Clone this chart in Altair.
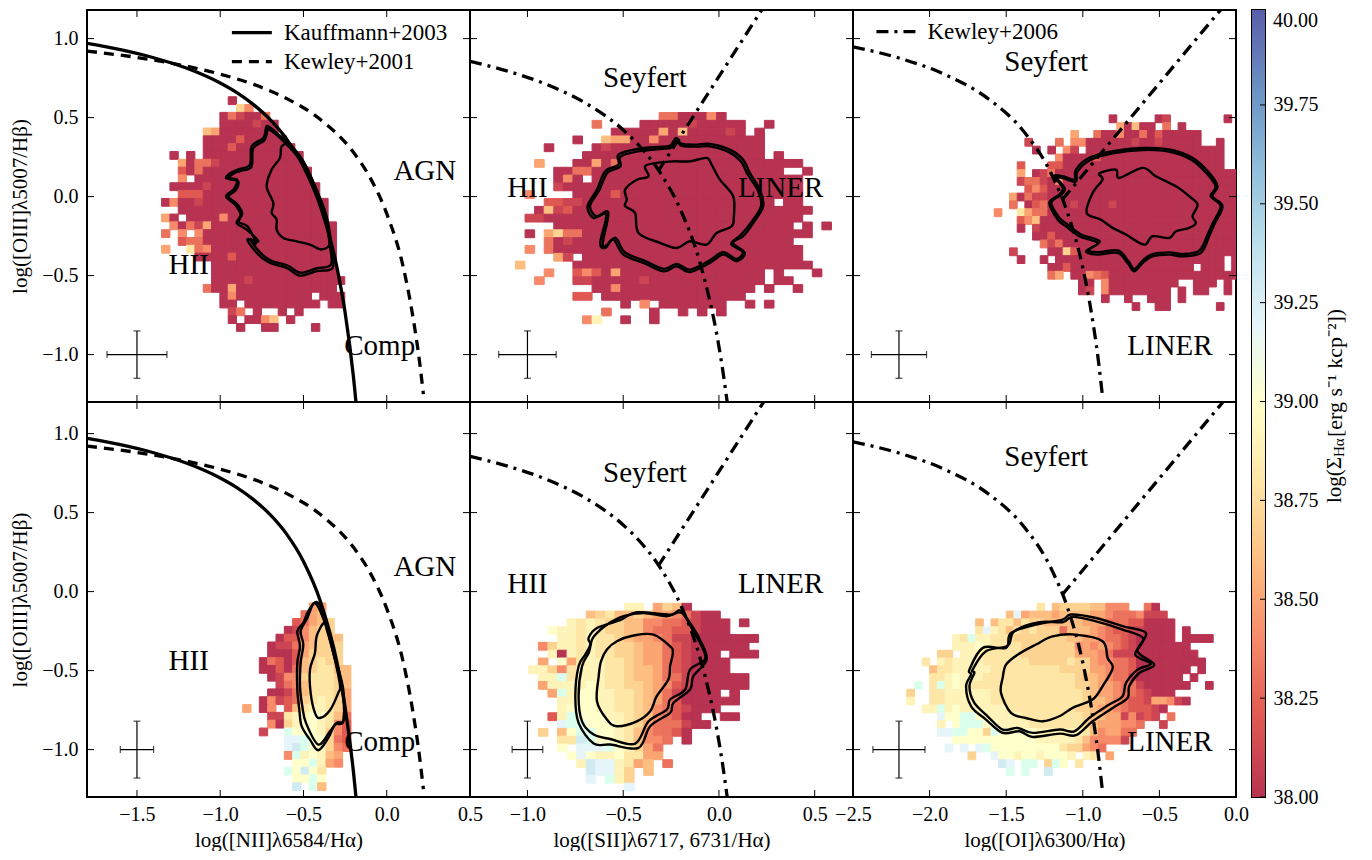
import altair as alt
import pandas as pd

FONT = "Liberation Serif"
# RdYlBu_r at 80% opacity over white, 38..40
CMAP = ["#B73351", "#DF5952", "#F68A69", "#FDBE81", "#FEE6A6", "#FFFFCC",
        "#E6F5F9", "#BCE1ED", "#90BDDA", "#6A91C3", "#5A5EAA"]
CODES = "0123456789ABCDEFGHIJK"

XT1 = [-1.5, -1.0, -0.5, 0.0, 0.5]
XT2 = [-1.0, -0.5, 0.0, 0.5]
XT3 = [-2.5, -2.0, -1.5, -1.0, -0.5, 0.0]
YT = [1.0, 0.5, 0.0, -0.5, -1.0]
CBT = [38.0, 38.25, 38.5, 38.75, 39.0, 39.25, 39.5, 39.75]
CB_TOP = 39.99

G1 = [
"........0",
".........74",
".......031003",
".......0000100",
".....650000000",
".....000020" "0000",
".....00020" "000000",
".0.0." "000000000000",
"..50331" "0000000000",
"..203" "0000000000000",
"..4.0" "0000000000000",
".0000" "1" "0000000000000",
"..222" "00000000000000",
"04001" "000000000000000",
"..000" "000000000000000",
"50.00004" "000000000000",
".40315" "000000000000000",
"3.4.4" "0000000000000000",
"..233" "0000000000000000",
"5..834" "000000000000000",
"....0" "000" "2" "000000000000",
"......" "000000000000000",
"......" "000000000000000",
"......" "0000" "1" "00000000000",
".....3005" "000000000000",
".......04" "000000000" ".000",
".......00." "000000000" ".00",
"........13.0..0.0",
"........0.0046.0",
".........0..00....0",
]
G2 = [
"..............." "3300040",
"........3....00000100000..0",
".........." "0000050" "6" "00001" "0.0",
"......0..655004" "00000000000",
"...0....01" "0000000000000000",
"......." "0000000000000000000" ".0",
"..5...005030" "000000000000000000",
"....0033" "00000000000000000000" "..0",
"....040." "0000000000000000000000",
"....1" "0000000000000000000000000",
".4....0000" "2" "0000000000000000000",
"...2211" "00000000000000000000" ".00",
"..0612" "0000000000000000000000000",
".11" "000000000000000000000000000",
"...." "0000000000000000000000000" ".0.0",
".0.5733" "000000000000000000000000",
"...301" "00000000000000000000000",
".4.3" "00000000000000000000000000",
"....51." "00000000000000000000000",
"6....." "0000000000000000000000000",
"...4..24205" "000000000000000" ".0...0",
"..4...1100000" "1" "000000000000" ".00",
"........004" "00000000000000" ".0..0",
"......22." "000000000000000",
"...........0.4.0000000..0.0",
".........3....0..0.0.0",
".......49..0..0",
]
G3 = [
"..............." "0" "....." "01" "......." "0",
"................" "50600.3.0",
"..........5..3004003" "0" "2" "00000",
"....1...3.44" "000000" "1" "00" "1" "00000" "..0",
".....0.0.41." "000000000000000000",
"........40000" "2" "0000000000000000",
"...2...22" "000000000000000000000",
"...5.013" "000000000000000000000000",
"...133104" "00000000000000000000000",
"....242" "0000000000000000000000000",
"..50311" "0000000000000000000000000",
"..3.023000" "1" "0000" "1" "0000000000000000",
"4..8533" "0000000000000000000000000",
"...2460" "0000000000000000000000000",
"...0.1" "00000000000000000000000000",
".....002" "000000000000000000000000",
"......313" "00000000000000000000000",
"..1....0072" "000000000000000000000",
"...0..0." "0000000000000000000000" ".0",
".......002" "0000000000000000" ".000.0",
".......35.00432" "00000000000000000",
"...........00.4" "000000000" "..000.0",
"...........01.4" "00000000" ".0.00..0",
"..............0..0..000.0",
"..................0..00......0",
]
G4 = [
"........55",
".......356",
"......23567",
".....014677",
"....02246776",
"...011356777",
"...000257777",
"..0320267877",
"..00203678866",
"...0144788876",
"....134688876",
"...0013688875",
"..04123789875",
"5.04.26899875",
"...11899AA863",
"...4079AA9842",
"..1..BAAA9742",
".....CCBAA732",
".....CDBA9743",
".....4B9A965",
"......AAB954",
".....BADA8",
"......AABA",
"......D.B6",
]
G5 = [
"..........99.5760",
"......67866765543100",
"....98987766443321000.0",
"..A998987766433221000",
"...99898876554311" "0000000",
".4799898877655321" "000000",
"..909898877655321" "000.000",
".5.A58998876553210000",
"997489998876653210000",
".99B8999887665331" "000000",
".59999A9887765421" "000000",
"..5B9AA998876531" "0000.0",
"...99AA998876532" "000000",
"...9AAA9988764321000",
"..29BAAA9987643200..00",
"...CBBAAA9875333100",
".7.6ABBAA98643320",
"...88DBAA986443.0",
"...A.CCCBA9753",
"....ACA99A8855",
".....9DCC9856.3",
"......DCC97.6",
"......C.B97",
"..........C",
]
G6 = [
"................." "8.6777766444..30",
"............." "6C5" "6665" "666655" "43334111",
"........." "6.68868776666655533322" "0000",
"........." "8C98687877736665432211" "0000.0",
"......" "98B998887777777665543321" "00000.0000",
"......" "999A9" "8888" "7777777" "45454321" "0000000",
"....77.999" "88888" "7777777" "55543111" "00000000",
"..8.98" "9999" "888888" "77777" "877544332" "000000000",
"...688" "99999" "888888888" "7777" "554332" "0000000" ".0",
"...889A999" "888888888888" "76654331" "000000" ".0",
".B.8B9A9" "88888888888888" "77" "6554331" "000000" "..0",
"7..88" "999999" "888888888888" "765543321" "000",
"9..88" "999999" "888888888888" "76654322155410",
"..99B9A" "999999" "888888888" "77" "6554322210",
"....CAABBA" "99999" "88888888" "7" "665514121.3",
"....9.ABBB" "AA9999" "8888888" "7" "6555443..1",
"....CCBBAA7B" "AAAAA" "999999" "8" "645533",
"......" "AAAAAAAAAAA" "99999" "8" "644441",
".....C.C.CB" "AAAAAAAAA" "877543",
"........7..CAA9AA9AAA9.98.5",
"............DC.BB.7BA.8",
".............B.B..D",
]

KA_X = [-1.8,-1.6,-1.4,-1.2,-1.0,-0.9,-0.8,-0.7,-0.6,-0.5,-0.4,-0.3,-0.25,-0.2,-0.18]
KA_Y = [0.97,0.93,0.879,0.812,0.719,0.658,0.582,0.487,0.362,0.191,-0.056,-0.443,-0.733,-1.14,-1.35]
KE_X = [-1.8,-1.4,-1.0,-0.8,-0.6,-0.4,-0.2,-0.1,0.0,0.1,0.15,0.2,0.22]
KE_Y = [0.921,0.864,0.775,0.71,0.62,0.489,0.28,0.12,-0.108,-0.45,-0.716,-1.07,-1.25]
S_X = [-1.3,-1.1,-0.9,-0.7,-0.5,-0.4,-0.3,-0.2,-0.1,0.0,0.02,0.043]
S_Y = [0.856,0.793,0.71,0.594,0.422,0.30,0.139,-0.085,-0.414,-0.95,-1.1,-1.3]
SL_X = [-0.318,0.233]
SL_Y = [0.16,1.2]
O_X = [-2.5,-2.2,-1.9,-1.6,-1.4,-1.2,-1.1,-1.0,-0.95,-0.9,-0.87]
O_Y = [0.948,0.877,0.773,0.607,0.429,0.133,-0.101,-0.45,-0.70,-1.025,-1.277]
OL_X = [-1.134,-0.085]
OL_Y = [-0.02,1.2]

C1_OUT = [(-.711,.445),(-.661,.403),(-.581,.329),(-.501,.224),(-.421,.044),(-.361,-.124),(-.331,-.314),(-.325,-.451),(-.421,-.472),(-.521,-.500),(-.601,-.451),(-.701,-.420),(-.771,-.367),(-.837,-.272),(-.771,-.283),(-.841,-.209),(-.901,-.167),(-.877,-.114),(-.911,-.051),(-.965,.002),(-.917,.049),(-.901,.108),(-.965,.118),(-.931,.154),(-.881,.175),(-.821,.203),(-.811,.319),(-.741,.371),(-.725,.435)]
C1_OUT2 = [(-.705,.425),(-.655,.385),(-.587,.315),(-.508,.210),(-.430,.030),(-.370,-.135),(-.340,-.320),(-.336,-.432),(-.425,-.455),(-.518,-.482),(-.596,-.436),(-.695,-.405),(-.760,-.355),(-.820,-.270),(-.785,-.295),(-.835,-.190),(-.888,-.160),(-.868,-.105),(-.900,-.045),(-.950,.000),(-.905,.042),(-.893,.098),(-.950,.112),(-.922,.145),(-.875,.163),(-.812,.190),(-.802,.305),(-.735,.357),(-.715,.425)]
C1_IN = [(-.631,.319),(-.581,.325),(-.521,.255),(-.461,.139),(-.411,.002),(-.361,-.167),(-.341,-.293),(-.391,-.335),(-.461,-.304),(-.541,-.283),(-.621,-.262),(-.661,-.209),(-.661,-.145),(-.691,-.103),(-.681,-.040),(-.721,.065),(-.691,.171),(-.641,.245)]

C2_OUT = [(-.525,.266),(-.429,.301),(-.325,.314),(-.255,.323),(-.224,.371),(-.195,.335),(-.117,.329),(-.047,.333),(.057,.297),(.126,.234),(.161,.150),(.213,.044),(.231,-.061),(.179,-.167),(.126,-.251),(.074,-.293),(.135,-.357),(.092,-.409),(.022,-.367),(-.047,-.420),(-.151,-.477),(-.221,-.441),(-.290,-.473),(-.394,-.420),(-.499,-.367),(-.551,-.272),(-.594,-.325),(-.620,-.293),(-.589,-.114),(-.655,-.135),(-.686,-.061),(-.637,.044),(-.594,.160),(-.525,.202)]
C2_OUT2 = [(-.515,.252),(-.425,.286),(-.322,.300),(-.250,.310),(-.222,.352),(-.195,.322),(-.117,.316),(-.047,.318),(.050,.283),(.115,.222),(.150,.140),(.203,.040),(.220,-.060),(.170,-.160),(.116,-.240),(.064,-.300),(.124,-.350),(.090,-.395),(.022,-.352),(-.050,-.405),(-.150,-.462),(-.221,-.426),(-.288,-.458),(-.390,-.405),(-.492,-.352),(-.540,-.262),(-.590,-.310),(-.606,-.290),(-.578,-.100),(-.640,-.125),(-.673,-.058),(-.625,.040),(-.583,.150),(-.515,.190)]
C2_IN = [(-.386,.192),(-.325,.213),(-.238,.223),(-.151,.223),(-.065,.245),(-.038,.202),(.005,.107),(.074,.002),(.078,-.125),(.066,-.188),(-.012,-.230),(-.065,-.304),(-.151,-.283),(-.221,-.325),(-.308,-.293),(-.420,-.230),(-.438,-.104),(-.490,-.061),(-.481,-.019),(-.490,.044),(-.429,.107),(-.368,.128)]

C3_OUT = [(-1.045,.171),(-.958,.245),(-.805,.287),(-.610,.308),(-.436,.298),(-.284,.245),(-.175,.150),(-.121,.065),(-.153,.002),(-.088,-.061),(-.142,-.177),(-.175,-.251),(-.229,-.356),(-.349,-.378),(-.436,-.367),(-.545,-.378),(-.610,-.420),(-.664,-.473),(-.708,-.420),(-.773,-.356),(-.903,-.367),(-.979,-.346),(-.903,-.293),(-1.023,-.251),(-1.110,-.188),(-1.164,-.145),(-1.218,-.040),(-1.153,.013),(-1.131,.055),(-1.186,.129),(-1.131,.129),(-1.055,.108)]
C3_OUT2 = [(-1.035,.158),(-.950,.232),(-.803,.274),(-.610,.295),(-.438,.285),(-.290,.232),(-.185,.140),(-.133,.062),(-.165,.002),(-.100,-.060),(-.153,-.170),(-.186,-.242),(-.240,-.342),(-.349,-.364),(-.436,-.353),(-.545,-.364),(-.610,-.405),(-.664,-.458),(-.705,-.405),(-.770,-.341),(-.900,-.352),(-.965,-.338),(-.890,-.283),(-1.015,-.238),(-1.100,-.176),(-1.152,-.135),(-1.205,-.040),(-1.140,.012),(-1.118,.052),(-1.170,.120),(-1.125,.115),(-1.045,.095)]
C3_IN = [(-.892,.146),(-.784,.171),(-.762,.118),(-.610,.182),(-.523,.129),(-.392,.065),(-.305,.002),(-.251,-.051),(-.284,-.124),(-.262,-.167),(-.305,-.198),(-.392,-.219),(-.436,-.262),(-.545,-.251),(-.599,-.304),(-.718,-.240),(-.805,-.198),(-.881,-.146),(-.975,-.103),(-.936,.023),(-.871,.108)]

C4_OUT = [(-.417,-.067),(-.471,-.124),(-.501,-.198),(-.537,-.251),(-.521,-.346),(-.537,-.451),(-.537,-.620),(-.525,-.747),(-.511,-.852),(-.461,-.937),(-.411,-1.004),(-.351,-.926),(-.311,-.842),(-.261,-.821),(-.261,-.620),(-.311,-.409),(-.361,-.198)]
C4_OUT2 = [(-.431,-.072),(-.477,-.167),(-.517,-.251),(-.501,-.335),(-.517,-.451),(-.521,-.599),(-.507,-.726),(-.485,-.831),(-.411,-.968),(-.341,-.884),(-.301,-.831),(-.257,-.806),(-.271,-.599),(-.321,-.388),(-.371,-.198)]
C4_IN = [(-.377,-.198),(-.421,-.283),(-.431,-.388),(-.461,-.494),(-.457,-.641),(-.431,-.768),(-.401,-.800),(-.341,-.751),(-.291,-.641),(-.281,-.589),(-.321,-.388),(-.357,-.251)]

C5_OUT = [(-.681,-.293),(-.637,-.230),(-.516,-.181),(-.429,-.131),(-.255,-.146),(-.203,-.118),(-.151,-.198),(-.099,-.304),(-.064,-.430),(-.134,-.536),(-.151,-.620),(-.238,-.705),(-.255,-.768),(-.359,-.852),(-.420,-.989),(-.568,-.968),(-.654,-.962),(-.733,-.831),(-.750,-.662),(-.733,-.472),(-.698,-.399),(-.672,-.335)]
C5_OUT2 = [(-.637,-.262),(-.585,-.209),(-.498,-.156),(-.394,-.135),(-.273,-.156),(-.194,-.135),(-.134,-.251),(-.090,-.346),(-.073,-.430),(-.151,-.494),(-.177,-.620),(-.255,-.683),(-.272,-.747),(-.368,-.821),(-.437,-.962),(-.568,-.933),(-.654,-.905),(-.715,-.821),(-.733,-.662),(-.715,-.472),(-.680,-.388),(-.663,-.304)]
C5_IN = [(-.585,-.367),(-.533,-.314),(-.446,-.278),(-.342,-.272),(-.255,-.346),(-.241,-.388),(-.255,-.472),(-.264,-.557),(-.325,-.662),(-.359,-.757),(-.429,-.821),(-.533,-.852),(-.585,-.810),(-.637,-.694),(-.628,-.536),(-.616,-.441)]

C6_OUT = [(-1.740,-.494),(-1.653,-.356),(-1.501,-.356),(-1.469,-.262),(-1.305,-.209),(-1.132,-.177),(-1.077,-.145),(-.914,-.167),(-.740,-.219),(-.588,-.262),(-.642,-.378),(-.534,-.462),(-.632,-.515),(-.697,-.599),(-.708,-.673),(-.805,-.736),(-.936,-.821),(-1.045,-.909),(-1.153,-.899),(-1.327,-.920),(-1.414,-.884),(-1.523,-.894),(-1.632,-.810),(-1.729,-.726),(-1.762,-.599),(-1.729,-.525)]
C6_OUT2 = [(-1.719,-.494),(-1.632,-.378),(-1.490,-.342),(-1.447,-.251),(-1.284,-.194),(-1.132,-.194),(-1.066,-.160),(-.914,-.188),(-.740,-.240),(-.605,-.297),(-.658,-.399),(-.555,-.456),(-.642,-.494),(-.718,-.578),(-.740,-.662),(-.827,-.715),(-.958,-.800),(-1.055,-.884),(-1.153,-.873),(-1.327,-.894),(-1.425,-.863),(-1.523,-.873),(-1.621,-.789),(-1.708,-.705),(-1.740,-.599),(-1.708,-.515)]
C6_IN = [(-1.501,-.462),(-1.425,-.399),(-1.305,-.335),(-1.197,-.283),(-1.045,-.272),(-.871,-.314),(-.838,-.420),(-.805,-.483),(-.871,-.599),(-.936,-.683),(-1.066,-.736),(-1.153,-.789),(-1.262,-.821),(-1.371,-.800),(-1.469,-.768),(-1.534,-.641),(-1.523,-.546)]

XD1 = [-1.8, 0.5]
XD2 = [-1.3, 0.7]
XD3 = [-2.5, 0.0]
YD_TOP = [-1.3, 1.181]
YD_BOT = [-1.3, 1.2]
W = 383
H_TOP = 392
H_BOT = 395
DASH_K01 = [10, 7]
DASH_K06 = [12, 6, 3, 6]
DY = 0.0495
DX = 0.05

T1 = [("AGN", 0.04, 0.165), ("HII", -1.31, -0.43), ("Comp", -0.255, -0.945)]
T2 = [("Seyfert", -0.605, 0.753), ("HII", -1.105, 0.057), ("LINER", 0.099, 0.057)]
T3 = [("Seyfert", -1.512, 0.854), ("LINER", -0.71, -0.943)]
T4 = [("AGN", 0.04, 0.158), ("HII", -1.31, -0.437), ("Comp", -0.255, -0.949)]
T5 = [("Seyfert", -0.605, 0.753), ("HII", -1.105, 0.05), ("LINER", 0.099, 0.05)]
T6 = [("Seyfert", -1.512, 0.854), ("LINER", -0.71, -0.949)]

def panel(grid, x0, y0, xd, yd, h, xticks, col, bottom, curves, conts, texts, err, legend):
    sx = alt.Scale(domain=xd, nice=False, zero=False)
    sy = alt.Scale(domain=yd, nice=False, zero=False)
    rows = []
    for r, s in enumerate(grid):
        for c, ch in enumerate(s):
            if ch != ".":
                rows.append(dict(a=x0 + c * DX, b=x0 + (c + 1) * DX,
                                 t=y0 - r * DY, u=y0 - (r + 1) * DY,
                                 v=38 + CODES.index(ch) * 0.1))
    ax = alt.Axis(values=xticks, format=".1f", title=XTITLES[col], labelPadding=7, titlePadding=5,
                  labelOverlap=False, labelFlush=False) if bottom else None
    ay = alt.Axis(values=YT, format=".1f", title="log([OIII]λ5007/Hβ)", labelPadding=9, titlePadding=11,
                  labelOverlap=False, labelFlush=False) if col == 0 else None
    cs = alt.Scale(domain=[38 + 0.2 * i for i in range(11)], range=CMAP)
    L = [alt.Chart(pd.DataFrame(rows)).mark_rect(clip=True, strokeWidth=1).encode(
        x=alt.X("a:Q", scale=sx, axis=ax), x2="b:Q",
        y=alt.Y("t:Q", scale=sy, axis=ay), y2="u:Q",
        color=alt.Color("v:Q", scale=cs, legend=None),
        stroke=alt.Stroke("v:Q", scale=cs, legend=None))]
    X = alt.X("x:Q", scale=sx, axis=ax)
    Y = alt.Y("y:Q", scale=sy, axis=ay)
    for pts, interp in conts:
        df = pd.DataFrame({"x": [p[0] for p in pts], "y": [p[1] for p in pts], "i": range(len(pts))})
        L.append(alt.Chart(df).mark_line(color="black", strokeWidth=2.4, clip=True, interpolate=interp)
                 .encode(x=X, y=Y, order=alt.Order("i:Q")))
    for xs, ys, dash in curves:
        df = pd.DataFrame({"x": xs, "y": ys, "i": range(len(xs))})
        kw = {"strokeDash": dash} if dash else {}
        L.append(alt.Chart(df).mark_line(color="black", strokeWidth=3.3, clip=True, interpolate="monotone", **kw)
                 .encode(x=X, y=Y, order=alt.Order("i:Q")))
    df = pd.DataFrame(texts, columns=["s", "x", "y"])
    L.append(alt.Chart(df).mark_text(font=FONT, fontSize=29, align="left", baseline="middle", color="black")
             .encode(x=X, y=Y, text="s:N"))
    cx, cy, ex, ey = err
    df = pd.DataFrame({"x": [cx - ex], "x2": [cx + ex], "y": [cy], "y0": [cy - ey], "y1": [cy + ey], "c": [cx]})
    L.append(alt.Chart(df).mark_rule(color="black", strokeWidth=1.2).encode(x=X, x2="x2:Q", y=Y))
    L.append(alt.Chart(df).mark_rule(color="black", strokeWidth=1.2).encode(
        x=alt.X("c:Q", scale=sx, axis=ax), y=alt.Y("y0:Q", scale=sy, axis=ay), y2="y1:Q"))
    df2 = pd.DataFrame({"x": [cx - ex, cx + ex], "y": [cy, cy]})
    L.append(alt.Chart(df2).mark_tick(orient="vertical", size=7, thickness=1.2, color="black").encode(x=X, y=Y))
    df3 = pd.DataFrame({"x": [cx, cx], "y": [cy - ey, cy + ey]})
    L.append(alt.Chart(df3).mark_tick(orient="horizontal", size=7, thickness=1.2, color="black").encode(x=X, y=Y))
    for (x1, x2, xt, yy, name, dash) in legend:
        df = pd.DataFrame({"x": [x1], "x2": [x2], "y": [yy]})
        kw = {"strokeDash": dash} if dash else {}
        L.append(alt.Chart(df).mark_rule(color="black", strokeWidth=3.3, **kw).encode(x=X, x2="x2:Q", y=Y))
        df = pd.DataFrame({"x": [xt], "y": [yy], "s": [name]})
        L.append(alt.Chart(df).mark_text(font=FONT, fontSize=23, align="left", baseline="middle", color="black")
                 .encode(x=X, y=Y, text="s:N"))
    tx = pd.DataFrame({"t": xticks})
    ty = pd.DataFrame({"t": YT})
    TX = alt.X("t:Q", scale=sx, axis=ax)
    TY = alt.Y("t:Q", scale=sy, axis=ay)
    L.append(alt.Chart(tx).mark_rule(color="black", strokeWidth=1).encode(x=TX, y=alt.value(h), y2=alt.value(h - 7)))
    L.append(alt.Chart(tx).mark_rule(color="black", strokeWidth=1).encode(x=TX, y=alt.value(0), y2=alt.value(7)))
    L.append(alt.Chart(ty).mark_rule(color="black", strokeWidth=1).encode(y=TY, x=alt.value(0), x2=alt.value(7)))
    L.append(alt.Chart(ty).mark_rule(color="black", strokeWidth=1).encode(y=TY, x=alt.value(W), x2=alt.value(W - 7)))
    return alt.layer(*L).properties(width=W, height=h)

XTITLES = ["log([NII]λ6584/Hα)", "log([SII]λ6717, 6731/Hα)", "log([OI]λ6300/Hα)"]
CARD = "cardinal-closed"
NII = [(KA_X, KA_Y, None), (KE_X, KE_Y, DASH_K01)]
SII = [(S_X, S_Y, DASH_K06), (SL_X, SL_Y, DASH_K06)]
OI = [(O_X, O_Y, DASH_K06), (OL_X, OL_Y, DASH_K06)]
LEG1 = [(-0.93, -0.69, -0.617, 1.038, "Kauffmann+2003", None), (-0.93, -0.69, -0.617, 0.854, "Kewley+2001", DASH_K01)]
LEG3 = [(-2.347, -2.086, -2.014, 1.044, "Kewley+2006", DASH_K06)]

p1 = panel(G1, -1.352, 0.632, XD1, YD_TOP, H_TOP, XT1, 0, False, NII,
           [(C1_OUT, CARD), (C1_OUT2, CARD), (C1_IN, CARD)], T1, (-1.5, -1.0, 0.18, 0.15), LEG1)
p2 = panel(G2, -1.0625, 0.532, XD2, YD_TOP, H_TOP, XT2, 1, False, SII,
           [(C2_OUT, CARD), (C2_OUT2, CARD), (C2_IN, CARD)], T2, (-1.0, -1.0, 0.15, 0.15), [])
p3 = panel(G3, -1.578, 0.517, XD3, YD_TOP, H_TOP, XT3, 2, False, OI,
           [(C3_OUT, CARD), (C3_OUT2, CARD), (C3_IN, CARD)], T3, (-2.2, -1.0, 0.18, 0.15), LEG3)
p4 = panel(G4, -0.865, -0.0715, XD1, YD_BOT, H_BOT, XT1, 0, True, NII,
           [(C4_OUT, CARD), (C4_OUT2, CARD), (C4_IN, CARD)], T4, (-1.5, -1.0, 0.10, 0.18), [])
p5 = panel(G5, -0.993, -0.074, XD2, YD_BOT, H_BOT, XT2, 1, True, SII,
           [(C5_OUT, CARD), (C5_OUT2, CARD), (C5_IN, CARD)], T5, (-1.0, -1.0, 0.08, 0.18), [])
p6 = panel(G6, -2.149, -0.074, XD3, YD_BOT, H_BOT, XT3, 2, True, OI,
           [(C6_OUT, CARD), (C6_OUT2, CARD), (C6_IN, CARD)], T6, (-2.2, -1.0, 0.17, 0.18), [])

grid = alt.concat(p1, p2, p3, p4, p5, p6, columns=3, spacing=0, bounds="flush")

cs_y = alt.Scale(domain=[38, CB_TOP], nice=False, zero=False)
cb_ax = alt.Axis(orient="right", values=CBT, format=".2f", title=None,
                 labelPadding=8, labelOverlap=False, labelFlush=False)
grad = alt.Gradient(gradient="linear", x1=0, x2=0, y1=1, y2=0,
                    stops=[alt.GradientStop(offset=i / 10, color=c) for i, c in enumerate(CMAP)])
CY = alt.Y("a:Q", scale=cs_y, axis=cb_ax)
bar = alt.Chart(pd.DataFrame({"a": [38], "b": [CB_TOP]})).mark_rect(color=grad).encode(
    x=alt.value(0), x2=alt.value(13), y=CY, y2="b:Q")
bt = alt.Chart(pd.DataFrame({"t": CBT})).mark_rule(color="black", strokeWidth=1).encode(
    y=alt.Y("t:Q", scale=cs_y, axis=cb_ax), x=alt.value(13), x2=alt.value(8))
top_lab = alt.Chart(pd.DataFrame({"a": [CB_TOP], "s": ["40.00"]})).mark_text(
    font=FONT, fontSize=20, align="left", baseline="top", dy=1, color="black").encode(
    x=alt.value(21), y=CY, text="s:N")
def cb_txt(s, x, y, size):
    return alt.Chart(pd.DataFrame({"s": [s]})).mark_text(
        font=FONT, fontSize=size, angle=270, align="left", baseline="middle", color="black").encode(
        x=alt.value(x), y=alt.value(y), text="s:N")
cb = alt.layer(bar, bt, top_lab,
               cb_txt("log(Σ", 83, 493, 21),
               cb_txt("Hα", 87, 447, 15),
               cb_txt("[erg s⁻¹ kcp⁻²])", 83, 427, 22)).properties(width=13, height=787)

chart = alt.hconcat(grid, cb, spacing=1).properties(padding=0).configure_view(
    stroke="black", strokeWidth=2
).configure_axis(
    grid=False, domain=False, ticks=False, labelFont=FONT, titleFont=FONT,
    labelFontSize=20, titleFontSize=21, labelColor="black", titleColor="black", titleFontWeight="normal"
)
chart.save("out.html", embed_options={"renderer": "svg", "actions": False})
